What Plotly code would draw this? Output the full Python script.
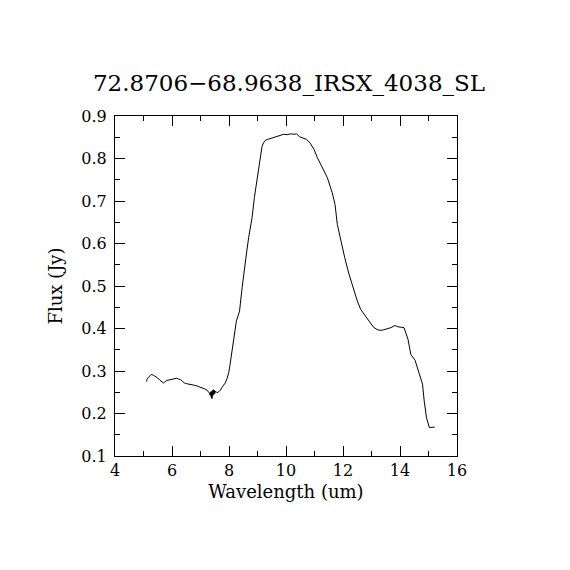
import plotly.graph_objects as go

# spectrum: wavelength (um), flux (Jy)
wave = [5.11, 5.12, 5.16, 5.21, 5.27, 5.35, 5.42, 5.49, 5.58, 5.64, 5.70, 5.76, 5.82,
        5.90, 5.99, 6.08, 6.17, 6.23, 6.29, 6.36, 6.43, 6.52, 6.64, 6.75, 6.87, 6.96,
        7.05, 7.14, 7.23, 7.28, 7.30, 7.32, 7.34, 7.35, 7.36, 7.37, 7.38, 7.39, 7.40,
        7.41, 7.42, 7.43, 7.44, 7.46, 7.47, 7.49, 7.50, 7.52, 7.55, 7.58, 7.64, 7.70,
        7.75, 7.81, 7.87, 7.93, 7.99, 8.03, 8.07, 8.10, 8.14, 8.19, 8.26, 8.32, 8.37,
        8.46, 8.55, 8.62, 8.69, 8.81, 8.89, 8.99, 9.08, 9.16, 9.22, 9.28, 9.36, 9.45,
        9.57, 9.69, 9.80, 9.92, 10.04, 10.16, 10.27, 10.37, 10.48, 10.60, 10.72, 10.84,
        10.98, 11.10, 11.27, 11.45, 11.62, 11.72, 11.80, 11.92, 12.06, 12.21, 12.38,
        12.50, 12.62, 12.75, 12.86, 12.96, 13.06, 13.16, 13.26, 13.38, 13.50, 13.68,
        13.82, 13.93, 14.04, 14.14, 14.28, 14.38, 14.53, 14.63, 14.71, 14.79, 14.85,
        14.93, 15.03, 15.11, 15.22]
flux = [0.275, 0.280, 0.284, 0.288, 0.292, 0.290, 0.287, 0.284, 0.278, 0.275, 0.272,
        0.275, 0.278, 0.279, 0.280, 0.282, 0.283, 0.281, 0.280, 0.276, 0.272, 0.270,
        0.269, 0.267, 0.265, 0.263, 0.261, 0.258, 0.255, 0.252, 0.249, 0.246, 0.243,
        0.251, 0.241, 0.249, 0.238, 0.252, 0.235, 0.250, 0.240, 0.255, 0.243, 0.256,
        0.245, 0.254, 0.247, 0.253, 0.250, 0.249, 0.251, 0.255, 0.261, 0.266, 0.272,
        0.282, 0.296, 0.312, 0.331, 0.345, 0.363, 0.386, 0.418, 0.430, 0.441, 0.496,
        0.551, 0.580, 0.614, 0.661, 0.708, 0.755, 0.802, 0.829, 0.838, 0.843, 0.845,
        0.847, 0.850, 0.853, 0.855, 0.857, 0.856, 0.858, 0.857, 0.858, 0.851, 0.848,
        0.845, 0.837, 0.822, 0.802, 0.778, 0.755, 0.720, 0.692, 0.645, 0.606, 0.567,
        0.528, 0.488, 0.465, 0.445, 0.432, 0.422, 0.412, 0.404, 0.399, 0.396, 0.396,
        0.398, 0.402, 0.407, 0.404, 0.403, 0.402, 0.375, 0.339, 0.325, 0.305, 0.284,
        0.269, 0.229, 0.190, 0.167, 0.168, 0.168]

title = "72.8706\u221268.9638_IRSX_4038_SL"
fnt = "DejaVu Serif"

fig = go.Figure(go.Scatter(x=wave, y=flux, mode="lines",
                           line=dict(color="black", width=1)))

axis_common = dict(showgrid=False, zeroline=False, showline=True, linecolor="black",
                   linewidth=1, mirror="ticks", ticks="inside", ticklen=10,
                   tickcolor="black", tickwidth=1,
                   tickfont=dict(family=fnt, size=16, color="black"))

fig.update_xaxes(range=[4, 16], dtick=2,
                 minor=dict(dtick=1, ticks="inside", ticklen=5, tickcolor="black"),
                 title=dict(text="Wavelength (um)", font=dict(family=fnt, size=18, color="black"),
                            standoff=6),
                 **axis_common)
fig.update_yaxes(range=[0.1, 0.9], dtick=0.1, tickformat=".1f", ticklabelstandoff=4,
                 minor=dict(dtick=0.05, ticks="inside", ticklen=5, tickcolor="black"),
                 title=dict(text="Flux (Jy)", font=dict(family=fnt, size=18, color="black"),
                            standoff=14),
                 **axis_common)

fig.update_layout(
    width=562, height=562,
    margin=dict(l=107, r=113, t=108, b=114),
    paper_bgcolor="white", plot_bgcolor="white",
    showlegend=False,
    title=dict(text=title, x=0.5, xanchor="center", y=0.866, yanchor="middle",
               font=dict(family=fnt, size=23, color="black")),
)

fig.write_html("out.html")
